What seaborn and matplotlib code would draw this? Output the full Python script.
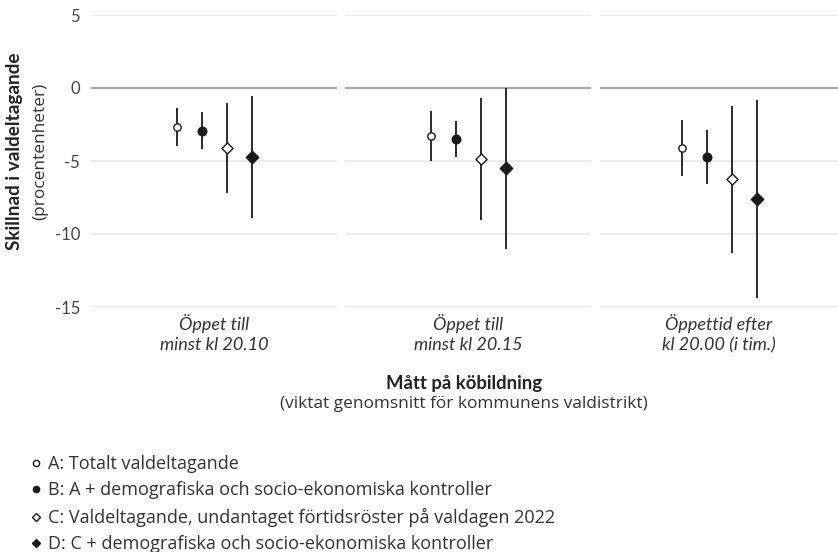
import pandas as pd
import numpy as np
import matplotlib.pyplot as plt
import seaborn as sns
from matplotlib.lines import Line2D

measures = ['Öppet till\nminst kl 20.10', 'Öppet till\nminst kl 20.15', 'Öppettid efter\nkl 20.00 (i tim.)']
models = ['A', 'B', 'C', 'D']
model_labels = ['A: Totalt valdeltagande',
                'B: A + demografiska och socio-ekonomiska kontroller',
                'C: Valdeltagande, undantaget förtidsröster på valdagen 2022',
                'D: C + demografiska och socio-ekonomiska kontroller']

# point estimates and confidence intervals, one list per measure (A, B, C, D)
est_2010 = [-2.65, -2.92, -4.1, -4.72]
low_2010 = [-3.95, -4.16, -7.17, -8.88]
high_2010 = [-1.37, -1.64, -1.03, -0.53]

est_2015 = [-3.27, -3.49, -4.86, -5.5]
low_2015 = [-4.98, -4.7, -9.04, -11.03]
high_2015 = [-1.58, -2.26, -0.71, 0.0]

est_tim = [-4.11, -4.75, -6.26, -7.6]
low_tim = [-6.05, -6.6, -11.28, -14.36]
high_tim = [-2.19, -2.9, -1.23, -0.82]

rows = []
for m, est, lo, hi in zip(measures, [est_2010, est_2015, est_tim],
                          [low_2010, low_2015, low_tim], [high_2010, high_2015, high_tim]):
    for i, mod in enumerate(models):
        rows.append({'measure': m, 'model': mod, 'pos': i, 'est': est[i], 'low': lo[i], 'high': hi[i]})
df = pd.DataFrame(rows)

sns.set_theme(style='white')
plt.rcParams['font.family'] = ['Lato', 'DejaVu Sans']
regular = ['Open Sans', 'DejaVu Sans']

W, H = 838, 552
fig = plt.figure(figsize=(W / 100, H / 100), dpi=100)

panels = [(91, 337), (345, 591), (600, 838)]
top, bottom = 15, 307
step = 25  # px between models

marker_style = {'A': ('o', 'white', 28), 'B': ('o', '#1a1a1a', 38),
                'C': ('D', 'white', 32), 'D': ('D', '#1a1a1a', 40)}

for (x0, x1), m in zip(panels, measures):
    ax = fig.add_axes([x0 / W, 1 - bottom / H, (x1 - x0) / W, (bottom - top) / H])
    d = df[df.measure == m]
    wunits = (x1 - x0) / step
    ax.set_xlim(1.5 - wunits / 2, 1.5 + wunits / 2)
    ax.set_ylim(-15, 5)
    for yv in [-15, -10, -5, 5]:
        ax.axhline(yv, color='#ebebeb', lw=1.5, zorder=0)
    ax.axhline(0, color='#a6a6a6', lw=1.6, zorder=0)
    ax.vlines(d['pos'], d['low'], d['high'], color='#1a1a1a', lw=1.3, zorder=2)
    for mod in models:
        mk, fc, s = marker_style[mod]
        sns.scatterplot(data=d[d.model == mod], x='pos', y='est', marker=mk, s=s,
                        facecolor=fc, edgecolor='#1a1a1a', linewidth=1.0, ax=ax, zorder=3)
    ax.set_xticks([1.5])
    ax.set_xticklabels([m], fontstyle='italic', fontsize=13, color='#333333', linespacing=1.3)
    ax.set_xlabel('')
    ax.set_ylabel('')
    ax.set_yticks([-15, -10, -5, 0, 5])
    if x0 == panels[0][0]:
        ax.set_yticklabels(['-15', '-10', '-5', '0', '5'], fontsize=12, color='#444444')
    else:
        ax.set_yticklabels([])
    ax.tick_params(axis='y', length=0, pad=8)
    ax.tick_params(axis='x', length=0, pad=5)
    sns.despine(ax=ax, left=True, bottom=True)

fig.text(15 / W, 1 - 151 / H, 'Skillnad i valdeltagande', rotation=90, ha='center', va='center',
         fontsize=13.6, fontweight='bold', color='#222222')
fig.text(40 / W, 1 - 151 / H, '(procentenheter)', rotation=90, ha='center', va='center',
         fontsize=12.4, color='#333333', family=regular)
fig.text(464 / W, 1 - 383 / H, 'Mått på köbildning', ha='center', va='center',
         fontsize=13.3, fontweight='bold', color='#222222')
fig.text(464 / W, 1 - 404 / H, '(viktat genomsnitt för kommunens valdistrikt)', ha='center', va='center',
         fontsize=12.4, color='#333333', family=regular)

handles = []
for mod, lab in zip(models, model_labels):
    mk, fc, s = marker_style[mod]
    handles.append(Line2D([], [], marker=mk, linestyle='none', markerfacecolor=fc,
                          markeredgecolor='#1a1a1a', markersize=4.5, markeredgewidth=1, label=lab))
fig.legend(handles=handles, loc='upper left', bbox_to_anchor=(31 / W, 1 - 455 / H),
           frameon=False, prop={'family': regular, 'size': 13}, handlelength=0.6, handletextpad=0.35,
           labelspacing=0.47, borderpad=0, borderaxespad=0, labelcolor='#333333')

fig.savefig('out.png', dpi=100)
